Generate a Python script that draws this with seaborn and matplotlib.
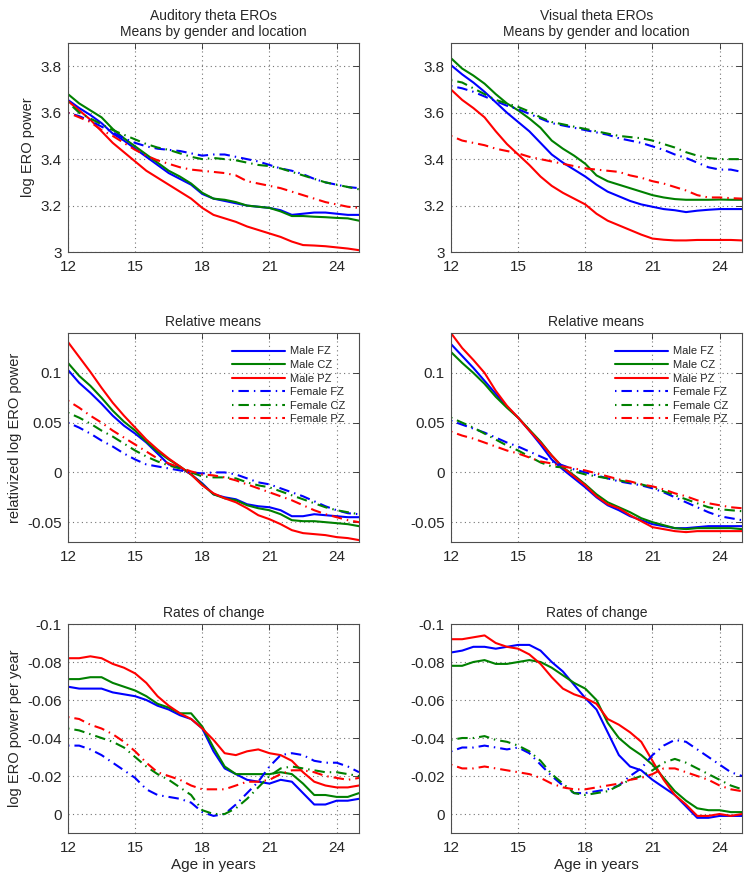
import numpy as np
import pandas as pd
import seaborn as sns
import matplotlib.pyplot as plt

ages = [12, 12.5, 13, 13.5, 14, 14.5, 15, 15.5, 16, 16.5, 17, 17.5, 18, 18.5,
        19, 19.5, 20, 20.5, 21, 21.5, 22, 22.5, 23, 23.5, 24, 24.5, 25]

series_names = ["Male FZ", "Male CZ", "Male PZ", "Female FZ", "Female CZ", "Female PZ"]

# Auditory means
aud_mean_male_fz = [3.655, 3.62, 3.59, 3.555, 3.51, 3.48, 3.445, 3.41, 3.375, 3.34, 3.315, 3.29, 3.25, 3.23,
                    3.22, 3.21, 3.20, 3.195, 3.19, 3.18, 3.16, 3.165, 3.17, 3.17, 3.165, 3.16, 3.16]
aud_mean_male_cz = [3.68, 3.64, 3.61, 3.58, 3.53, 3.49, 3.455, 3.42, 3.385, 3.35, 3.325, 3.295, 3.255, 3.23,
                    3.225, 3.215, 3.20, 3.195, 3.19, 3.175, 3.155, 3.155, 3.152, 3.15, 3.147, 3.145, 3.135]
aud_mean_male_pz = [3.65, 3.61, 3.57, 3.52, 3.47, 3.43, 3.39, 3.35, 3.32, 3.29, 3.26, 3.23, 3.19, 3.16,
                    3.145, 3.13, 3.11, 3.095, 3.08, 3.065, 3.045, 3.03, 3.028, 3.025, 3.02, 3.015, 3.008]
aud_mean_fem_fz = [3.60, 3.585, 3.565, 3.54, 3.515, 3.49, 3.47, 3.455, 3.445, 3.44, 3.435, 3.425, 3.415, 3.42,
                   3.42, 3.41, 3.40, 3.39, 3.375, 3.36, 3.35, 3.335, 3.315, 3.30, 3.29, 3.28, 3.275]
aud_mean_fem_cz = [3.645, 3.60, 3.575, 3.55, 3.525, 3.505, 3.485, 3.465, 3.45, 3.44, 3.425, 3.41, 3.40, 3.405,
                   3.40, 3.395, 3.385, 3.375, 3.37, 3.36, 3.345, 3.33, 3.315, 3.30, 3.29, 3.28, 3.27]
aud_mean_fem_pz = [3.60, 3.58, 3.56, 3.525, 3.50, 3.47, 3.44, 3.415, 3.395, 3.38, 3.365, 3.355, 3.35, 3.345,
                   3.34, 3.33, 3.305, 3.295, 3.285, 3.275, 3.26, 3.245, 3.23, 3.215, 3.205, 3.195, 3.19]

# Visual means
vis_mean_male_fz = [3.805, 3.765, 3.73, 3.69, 3.645, 3.60, 3.56, 3.52, 3.47, 3.42, 3.385, 3.355, 3.325, 3.29,
                    3.26, 3.24, 3.22, 3.205, 3.195, 3.185, 3.18, 3.172, 3.178, 3.182, 3.185, 3.185, 3.185]
vis_mean_male_cz = [3.835, 3.79, 3.76, 3.725, 3.68, 3.64, 3.61, 3.575, 3.535, 3.48, 3.445, 3.415, 3.38, 3.33,
                    3.305, 3.29, 3.275, 3.26, 3.245, 3.235, 3.228, 3.225, 3.225, 3.225, 3.226, 3.225, 3.225]
vis_mean_male_pz = [3.70, 3.655, 3.62, 3.58, 3.52, 3.465, 3.42, 3.375, 3.325, 3.285, 3.255, 3.23, 3.205, 3.165,
                    3.135, 3.115, 3.095, 3.075, 3.058, 3.053, 3.05, 3.05, 3.052, 3.052, 3.052, 3.052, 3.05]
vis_mean_fem_fz = [3.715, 3.705, 3.69, 3.67, 3.65, 3.63, 3.615, 3.595, 3.575, 3.555, 3.545, 3.535, 3.525, 3.515,
                   3.505, 3.49, 3.48, 3.47, 3.455, 3.44, 3.42, 3.405, 3.385, 3.365, 3.355, 3.355, 3.345]
vis_mean_fem_cz = [3.74, 3.73, 3.705, 3.68, 3.655, 3.64, 3.625, 3.605, 3.58, 3.56, 3.55, 3.54, 3.53, 3.52,
                   3.51, 3.50, 3.495, 3.49, 3.48, 3.465, 3.45, 3.43, 3.415, 3.405, 3.40, 3.40, 3.40]
vis_mean_fem_pz = [3.50, 3.48, 3.47, 3.46, 3.445, 3.435, 3.425, 3.41, 3.40, 3.39, 3.38, 3.37, 3.36, 3.355,
                   3.35, 3.345, 3.33, 3.32, 3.305, 3.295, 3.28, 3.265, 3.245, 3.235, 3.235, 3.232, 3.23]

# Auditory relative means
aud_rel_male_fz = [0.103, 0.090, 0.080, 0.069, 0.057, 0.047, 0.039, 0.030, 0.019, 0.008, 0.005, -0.002, -0.011, -0.022,
                   -0.025, -0.027, -0.032, -0.034, -0.035, -0.038, -0.044, -0.044, -0.042, -0.043, -0.044, -0.045, -0.045]
aud_rel_male_cz = [0.110, 0.097, 0.087, 0.075, 0.062, 0.051, 0.042, 0.031, 0.021, 0.013, 0.006, -0.002, -0.012, -0.022,
                   -0.026, -0.028, -0.033, -0.036, -0.038, -0.042, -0.048, -0.049, -0.049, -0.050, -0.051, -0.052, -0.054]
aud_rel_male_pz = [0.131, 0.116, 0.101, 0.085, 0.070, 0.057, 0.045, 0.033, 0.023, 0.014, 0.006, -0.002, -0.013, -0.021,
                   -0.026, -0.030, -0.036, -0.043, -0.047, -0.052, -0.058, -0.061, -0.062, -0.063, -0.065, -0.066, -0.068]
aud_rel_fem_fz = [0.050, 0.045, 0.039, 0.032, 0.026, 0.019, 0.013, 0.008, 0.006, 0.004, 0.002, 0.0, -0.001, 0.0,
                  0.0, -0.002, -0.006, -0.010, -0.012, -0.016, -0.020, -0.024, -0.029, -0.034, -0.038, -0.041, -0.042]
aud_rel_fem_cz = [0.060, 0.055, 0.049, 0.042, 0.036, 0.029, 0.022, 0.016, 0.011, 0.007, 0.004, 0.0, -0.004, -0.005,
                  -0.005, -0.006, -0.010, -0.013, -0.015, -0.019, -0.023, -0.027, -0.031, -0.035, -0.038, -0.040, -0.042]
aud_rel_fem_pz = [0.072, 0.065, 0.057, 0.050, 0.042, 0.035, 0.028, 0.021, 0.014, 0.009, 0.005, 0.001, -0.002, -0.003,
                  -0.005, -0.008, -0.012, -0.016, -0.020, -0.024, -0.028, -0.033, -0.038, -0.042, -0.045, -0.048, -0.050]

# Visual relative means
vis_rel_male_fz = [0.129, 0.117, 0.105, 0.092, 0.079, 0.066, 0.055, 0.042, 0.028, 0.013, 0.003, -0.006, -0.015, -0.025,
                   -0.033, -0.038, -0.044, -0.048, -0.052, -0.054, -0.056, -0.056, -0.055, -0.054, -0.054, -0.054, -0.054]
vis_rel_male_cz = [0.121, 0.110, 0.100, 0.089, 0.076, 0.065, 0.055, 0.043, 0.031, 0.017, 0.005, -0.003, -0.012, -0.022,
                   -0.030, -0.035, -0.040, -0.046, -0.050, -0.053, -0.056, -0.057, -0.056, -0.056, -0.056, -0.056, -0.057]
vis_rel_male_pz = [0.140, 0.125, 0.113, 0.100, 0.082, 0.067, 0.055, 0.042, 0.030, 0.017, 0.005, -0.004, -0.013, -0.024,
                   -0.032, -0.036, -0.043, -0.049, -0.055, -0.057, -0.059, -0.060, -0.059, -0.059, -0.059, -0.059, -0.059]
vis_rel_fem_fz = [0.052, 0.048, 0.044, 0.040, 0.035, 0.030, 0.026, 0.021, 0.016, 0.011, 0.007, 0.003, 0.0, -0.003,
                  -0.006, -0.009, -0.011, -0.013, -0.016, -0.020, -0.025, -0.030, -0.035, -0.040, -0.044, -0.046, -0.048]
vis_rel_fem_cz = [0.055, 0.050, 0.045, 0.039, 0.033, 0.027, 0.022, 0.016, 0.010, 0.006, 0.005, 0.001, -0.002, -0.004,
                  -0.006, -0.008, -0.010, -0.012, -0.015, -0.019, -0.023, -0.027, -0.031, -0.035, -0.037, -0.038, -0.039]
vis_rel_fem_pz = [0.041, 0.037, 0.034, 0.030, 0.026, 0.022, 0.019, 0.015, 0.011, 0.009, 0.006, 0.004, 0.002, -0.001,
                  -0.004, -0.007, -0.009, -0.012, -0.014, -0.017, -0.021, -0.024, -0.028, -0.031, -0.033, -0.035, -0.036]

# Auditory rates of change
aud_rate_male_fz = [-0.067, -0.066, -0.066, -0.066, -0.064, -0.063, -0.062, -0.060, -0.057, -0.055, -0.052, -0.050, -0.045, -0.033,
                    -0.024, -0.021, -0.018, -0.017, -0.016, -0.018, -0.017, -0.011, -0.005, -0.005, -0.007, -0.007, -0.008]
aud_rate_male_cz = [-0.071, -0.071, -0.072, -0.072, -0.069, -0.067, -0.065, -0.062, -0.058, -0.056, -0.053, -0.053, -0.046, -0.035,
                    -0.025, -0.021, -0.021, -0.021, -0.021, -0.022, -0.021, -0.016, -0.010, -0.010, -0.009, -0.009, -0.011]
aud_rate_male_pz = [-0.082, -0.082, -0.083, -0.082, -0.079, -0.077, -0.074, -0.069, -0.062, -0.057, -0.053, -0.050, -0.045, -0.039,
                    -0.032, -0.031, -0.033, -0.034, -0.032, -0.031, -0.028, -0.022, -0.017, -0.015, -0.014, -0.014, -0.015]
aud_rate_fem_fz = [-0.036, -0.036, -0.034, -0.031, -0.027, -0.023, -0.019, -0.013, -0.010, -0.009, -0.008, -0.006, -0.001, 0.001,
                   0.0, -0.005, -0.011, -0.017, -0.025, -0.031, -0.032, -0.031, -0.028, -0.027, -0.027, -0.025, -0.022]
aud_rate_fem_cz = [-0.045, -0.044, -0.042, -0.040, -0.038, -0.035, -0.030, -0.025, -0.021, -0.018, -0.014, -0.010, -0.002, 0.0,
                   0.0, -0.003, -0.008, -0.014, -0.020, -0.024, -0.025, -0.024, -0.023, -0.022, -0.022, -0.021, -0.020]
aud_rate_fem_pz = [-0.051, -0.050, -0.047, -0.045, -0.042, -0.038, -0.033, -0.027, -0.022, -0.020, -0.018, -0.015, -0.013, -0.013,
                   -0.013, -0.015, -0.017, -0.017, -0.018, -0.021, -0.023, -0.023, -0.022, -0.020, -0.019, -0.018, -0.019]

# Visual rates of change
vis_rate_male_fz = [-0.085, -0.086, -0.088, -0.088, -0.087, -0.088, -0.089, -0.089, -0.086, -0.080, -0.075, -0.068, -0.061, -0.055,
                    -0.043, -0.031, -0.025, -0.023, -0.018, -0.014, -0.010, -0.004, 0.002, 0.002, 0.001, 0.001, 0.001]
vis_rate_male_cz = [-0.078, -0.078, -0.080, -0.081, -0.079, -0.079, -0.080, -0.081, -0.080, -0.077, -0.073, -0.069, -0.066, -0.060,
                    -0.048, -0.040, -0.035, -0.031, -0.026, -0.019, -0.012, -0.007, -0.003, -0.002, -0.002, -0.001, -0.001]
vis_rate_male_pz = [-0.092, -0.092, -0.093, -0.094, -0.090, -0.088, -0.087, -0.084, -0.079, -0.072, -0.066, -0.063, -0.061, -0.058,
                    -0.050, -0.047, -0.043, -0.038, -0.028, -0.018, -0.010, -0.005, 0.001, 0.001, 0.0, 0.001, 0.0]
vis_rate_fem_fz = [-0.033, -0.035, -0.035, -0.036, -0.035, -0.034, -0.035, -0.032, -0.026, -0.020, -0.015, -0.011, -0.011, -0.012,
                   -0.013, -0.015, -0.020, -0.024, -0.031, -0.036, -0.039, -0.038, -0.034, -0.030, -0.026, -0.022, -0.020]
vis_rate_fem_cz = [-0.039, -0.040, -0.040, -0.041, -0.039, -0.038, -0.036, -0.033, -0.028, -0.021, -0.016, -0.011, -0.010, -0.011,
                   -0.012, -0.015, -0.018, -0.020, -0.023, -0.027, -0.029, -0.027, -0.024, -0.021, -0.018, -0.015, -0.013]
vis_rate_fem_pz = [-0.026, -0.024, -0.024, -0.025, -0.024, -0.023, -0.022, -0.021, -0.019, -0.016, -0.014, -0.013, -0.013, -0.014,
                   -0.015, -0.016, -0.018, -0.019, -0.021, -0.024, -0.024, -0.022, -0.020, -0.018, -0.015, -0.013, -0.012]

x_ticks = [12, 15, 18, 21, 24]

sns.set_style("white")
plt.rcParams['font.family'] = ['Liberation Sans', 'DejaVu Sans']

colors = ["#0000ff", "#008000", "#ff0000", "#0000ff", "#008000", "#ff0000"]
dashdot = (0, (0.7, 2.4, 5.0, 2.4))
styles = ["-", "-", "-", dashdot, dashdot, dashdot]

panels = [
    ("Auditory theta EROs\nMeans by gender and location",
     [aud_mean_male_fz, aud_mean_male_cz, aud_mean_male_pz, aud_mean_fem_fz, aud_mean_fem_cz, aud_mean_fem_pz]),
    ("Visual theta EROs\nMeans by gender and location",
     [vis_mean_male_fz, vis_mean_male_cz, vis_mean_male_pz, vis_mean_fem_fz, vis_mean_fem_cz, vis_mean_fem_pz]),
    ("Relative means",
     [aud_rel_male_fz, aud_rel_male_cz, aud_rel_male_pz, aud_rel_fem_fz, aud_rel_fem_cz, aud_rel_fem_pz]),
    ("Relative means",
     [vis_rel_male_fz, vis_rel_male_cz, vis_rel_male_pz, vis_rel_fem_fz, vis_rel_fem_cz, vis_rel_fem_pz]),
    ("Rates of change",
     [aud_rate_male_fz, aud_rate_male_cz, aud_rate_male_pz, aud_rate_fem_fz, aud_rate_fem_cz, aud_rate_fem_pz]),
    ("Rates of change",
     [vis_rate_male_fz, vis_rate_male_cz, vis_rate_male_pz, vis_rate_fem_fz, vis_rate_fem_cz, vis_rate_fem_pz]),
]

fig = plt.figure(figsize=(7.52, 8.8), dpi=100)
lefts = [0.0904, 0.5997]
bottoms = [0.7136, 0.384, 0.0534]
w, h = 0.387, 0.2375

for i, (title, data) in enumerate(panels):
    row, col = i // 2, i % 2
    ax = fig.add_axes([lefts[col], bottoms[row], w, h])
    for name, vals, c, ls in zip(series_names, data, colors, styles):
        sns.lineplot(x=ages, y=vals, ax=ax, color=c, linestyle=ls, linewidth=1.5, label=name)
    ax.set_xlim(12, 25)
    ax.set_xticks(x_ticks)
    if row == 0:
        ax.set_ylim(3, 3.9)
        ax.set_yticks([3, 3.2, 3.4, 3.6, 3.8])
        ax.set_yticklabels(["3", "3.2", "3.4", "3.6", "3.8"])
    elif row == 1:
        ax.set_ylim(-0.07, 0.14)
        ax.set_yticks([-0.05, 0, 0.05, 0.1])
        ax.set_yticklabels(["-0.05", "0", "0.05", "0.1"])
    else:
        ax.set_ylim(0.01, -0.1)
        ax.set_yticks([0, -0.02, -0.04, -0.06, -0.08, -0.1])
        ax.set_yticklabels(["0", "-0.02", "-0.04", "-0.06", "-0.08", "-0.1"])
        ax.set_xlabel("Age in years", fontsize=11, labelpad=2)
    ax.set_title(title, fontsize=10, pad=5)
    ax.grid(True, color="0.45", linestyle=(0, (1, 3)), linewidth=0.8)
    ax.tick_params(direction="in", length=4, labelsize=11, top=True, right=True, width=0.6)
    ax.tick_params(axis="x", pad=6)
    ax.tick_params(axis="y", pad=4.5)
    for s in ax.spines.values():
        s.set_color("0.3")
        s.set_linewidth(0.8)
    if row == 1:
        ax.legend(loc="upper right", frameon=False, fontsize=8, handlelength=4.8,
                  handletextpad=0.5, labelspacing=0.32, borderaxespad=0.8)
    else:
        ax.get_legend().remove()

fig.axes[0].set_ylabel("log ERO power", fontsize=10.5)
fig.axes[2].set_ylabel("relativized log ERO power", fontsize=10.5)
fig.axes[4].set_ylabel("log ERO power per year", fontsize=10.5)

fig.savefig("out.png", dpi=100)
